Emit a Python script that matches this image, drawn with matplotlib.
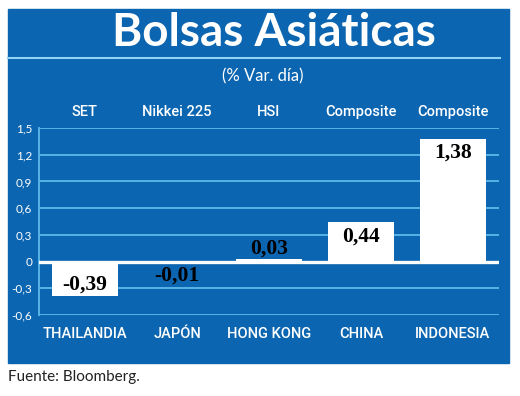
import matplotlib
matplotlib.use("Agg")
import matplotlib.pyplot as plt
from matplotlib.patches import Rectangle
from matplotlib.lines import Line2D
import matplotlib.transforms as mtransforms

paises = ["THAILANDIA", "JAPÓN", "HONG KONG", "CHINA", "INDONESIA"]
indices = ["SET", "Nikkei 225", "HSI", "Composite", "Composite"]
variacion = [-0.39, -0.01, 0.03, 0.44, 1.38]
yticks = [-0.6, -0.3, 0, 0.3, 0.6, 0.9, 1.2, 1.5]

azul = "#0b65b0"
celeste = "#5fb9ea"
estrecha = "Roboto"

fig = plt.figure(figsize=(5.2, 3.96), dpi=100)

# fondo azul del recuadro
fig.patches.append(Rectangle((8 / 520, 1 - 363 / 396), 501 / 520, 354 / 396,
                             transform=fig.transFigure, color=azul, zorder=-10))
fig.lines.append(Line2D([8 / 520, 500 / 520], [1 - 58 / 396, 1 - 58 / 396],
                        transform=fig.transFigure, color="#8fd3f5", lw=1.5, zorder=-5))

fig.text(0.526, 1 - 33 / 396, "Bolsas Asiáticas", color="white", fontsize=33,
         fontweight="bold", family="Lato", ha="center", va="center")
fig.text(0.506, 1 - 76 / 396, "(% Var. día)", color="white", fontsize=12,
         family="Lato", ha="center", va="center")
fig.text(8 / 520, 1 - 377 / 396, "Fuente: Bloomberg.", color="#222222", fontsize=11,
         family="Lato", ha="left", va="center")

ax = fig.add_axes([39 / 520, 1 - 315 / 396, 460 / 520, 187 / 396])
ax.set_facecolor("none")

x = list(range(len(paises)))
ax.bar(x, variacion, width=0.72, color="white", zorder=3)

for yv in yticks:
    if yv == 0:
        continue
    ax.axhline(yv, color=celeste, lw=1.3, zorder=1)
ax.axhline(0, color="white", lw=2.4, zorder=4)

for xi, v in zip(x, variacion):
    etiqueta = f"{v:.2f}".replace(".", ",")
    if v >= 0.1:
        off, va = -3, "top"
    elif v <= -0.1:
        off, va = 1, "bottom"
    elif v >= 0:
        off, va = 0, "bottom"
    else:
        off, va = -2, "top"
    ax.annotate(etiqueta, (xi, v), xytext=(0, off), textcoords="offset points",
                ha="center", va=va, fontsize=15.5, fontweight="bold",
                family="Liberation Serif", color="black", zorder=5)

trans = mtransforms.blended_transform_factory(ax.transData, fig.transFigure)
for xi, nombre in zip(x, indices):
    ax.text(xi, 1 - 112 / 396, nombre, transform=trans, ha="center", va="center",
            color="white", fontsize=10.5, family=estrecha, fontweight="medium")

ax.set_xlim(-0.5, len(paises) - 0.5)
ax.set_ylim(-0.6, 1.5)
ax.set_yticks(yticks)
ax.set_yticklabels([f"{t:g}".replace(".", ",") for t in yticks])
ax.set_xticks(x)
ax.set_xticklabels(paises)
ax.tick_params(axis="y", colors="white", labelsize=8.5, length=0, pad=5)
ax.tick_params(axis="x", colors="white", labelsize=10.5, length=0, pad=9)
for lbl in ax.get_xticklabels():
    lbl.set_family(estrecha)
    lbl.set_fontweight("medium")
for lbl in ax.get_yticklabels():
    lbl.set_family("Lato")

for s in ["top", "right", "bottom"]:
    ax.spines[s].set_visible(False)
ax.spines["left"].set_color(celeste)
ax.spines["left"].set_linewidth(1.3)

fig.savefig("out.png", dpi=100)
